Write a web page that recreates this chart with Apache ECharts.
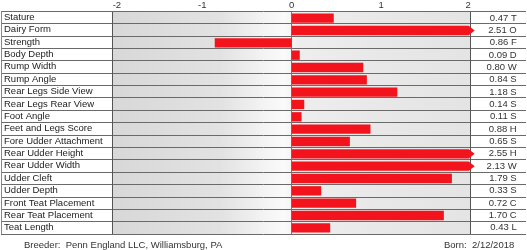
<!DOCTYPE html>
<html><head><meta charset="utf-8">
<script src="https://cdn.jsdelivr.net/npm/echarts@6/dist/echarts.min.js"></script>
<style>html,body{margin:0;padding:0;background:#fff}#c{width:527px;height:250px}</style>
</head><body><div id="c"></div>
<script>
const categories = ['Stature','Dairy Form','Strength','Body Depth','Rump Width','Rump Angle','Rear Legs Side View','Rear Legs Rear View','Foot Angle','Feet and Legs Score','Fore Udder Attachment','Rear Udder Height','Rear Udder Width','Udder Cleft','Udder Depth','Front Teat Placement','Rear Teat Placement','Teat Length'];
const values = [0.47, 2.51, -0.86, 0.09, 0.80, 0.84, 1.18, 0.14, 0.11, 0.88, 0.65, 2.55, 2.13, 1.79, 0.33, 0.72, 1.70, 0.43];
const codes = ['T','O','F','D','W','S','S','S','S','H','S','H','W','S','S','C','C','L'];
const xTicks = [-2, -1, 0, 1, 2];
const breeder = 'Breeder:  Penn England LLC, Williamsburg, PA';
const born = 'Born:  2/12/2018';

const FONT = 'Liberation Sans, Arial, sans-serif';
const FS = 9.5;
const chart = echarts.init(document.getElementById('c'), null, {renderer: 'canvas'});
const xMin = xTicks[0], xMax = xTicks[xTicks.length - 1];

chart.setOption({
  animation: false,
  title: [
    {text: breeder, left: 19, top: 235, textStyle: {fontSize: FS, fontWeight: 'normal', color: '#333', fontFamily: FONT}},
    {text: born, left: 439, top: 235, textStyle: {fontSize: FS, fontWeight: 'normal', color: '#333', fontFamily: FONT}}
  ],
  grid: [
    {left: 1, right: 1, top: 11, height: 223, show: false},
    {left: 112.7, right: 56.3, top: 11, height: 223, show: true, borderWidth: 0,
     backgroundColor: {type: 'linear', x: 0, y: 0, x2: 1, y2: 0, colorStops: [
       {offset: 0, color: '#d8d8d8'}, {offset: 0.3, color: '#e2e2e2'}, {offset: 0.42, color: '#f3f3f3'},
       {offset: 0.48, color: '#fafafa'}, {offset: 0.52, color: '#eeeeee'}, {offset: 0.75, color: '#e8e8e8'}, {offset: 1, color: '#e4e4e4'}]}}
  ],
  xAxis: [
    {gridIndex: 0, type: 'value', min: 0, max: 1, interval: 1, show: true,
     axisLine: {show: false}, axisTick: {show: false}, axisLabel: {show: false},
     splitLine: {show: true, lineStyle: {color: ['#888', 'rgba(0,0,0,0)'], width: 1}}},
    {gridIndex: 1, type: 'value', min: xMin, max: xMax, interval: 1, position: 'top',
     axisLine: {show: false}, axisTick: {show: false},
     axisLabel: {show: true, margin: 2, fontSize: FS, color: '#333', fontFamily: FONT,
       alignMinLabel: 'left', alignMaxLabel: 'right',
       formatter: v => String(v)},
     splitLine: {show: true, lineStyle: {color: ['#555', 'rgba(0,0,0,0)', '#777', 'rgba(0,0,0,0)', '#555'], width: 1}}}
  ],
  yAxis: [
    {gridIndex: 0, type: 'category', data: categories, inverse: true,
     axisLine: {show: false}, axisTick: {show: false},
     axisLabel: {show: true, interval: 0, inside: true, margin: 3, fontSize: FS, color: '#222', fontFamily: FONT, align: 'left'},
     splitLine: {show: true, interval: 0, lineStyle: {color: '#6a6a6a', width: 1}}},
    {gridIndex: 1, type: 'category', data: categories, inverse: true,
     axisLine: {show: false}, axisTick: {show: false}, axisLabel: {show: false}, splitLine: {show: false}},
    {gridIndex: 1, type: 'category', data: categories, inverse: true, position: 'right',
     axisLine: {show: false}, axisTick: {show: false}, splitLine: {show: false},
     axisLabel: {show: true, interval: 0, margin: 46, align: 'right', fontSize: FS, color: '#333', fontFamily: FONT,
       formatter: (v, i) => Math.abs(values[i]).toFixed(2) + ' ' + codes[i]}}
  ],
  series: [{
    type: 'custom', xAxisIndex: 1, yAxisIndex: 1, clip: false,
    data: values.map((v, i) => [v, i]),
    encode: {x: 0, y: 1},
    renderItem: function (params, api) {
      const v = api.value(0), idx = api.value(1);
      const cap = Math.max(xMin, Math.min(xMax, v));
      const p0 = api.coord([0, idx]);
      const p1 = api.coord([cap, idx]);
      const h = api.size([0, 1])[1] * 0.76;
      const y = p0[1];
      let pts;
      if (v > xMax) {
        pts = [[p0[0], y - h / 2], [p1[0] - 2, y - h / 2], [p1[0] + 4, y], [p1[0] - 2, y + h / 2], [p0[0], y + h / 2]];
      } else {
        pts = [[p0[0], y - h / 2], [p1[0], y - h / 2], [p1[0], y + h / 2], [p0[0], y + h / 2]];
      }
      return {type: 'polygon', shape: {points: pts}, style: {fill: '#f2131c', stroke: null}};
    }
  }]
});
</script></body></html>
